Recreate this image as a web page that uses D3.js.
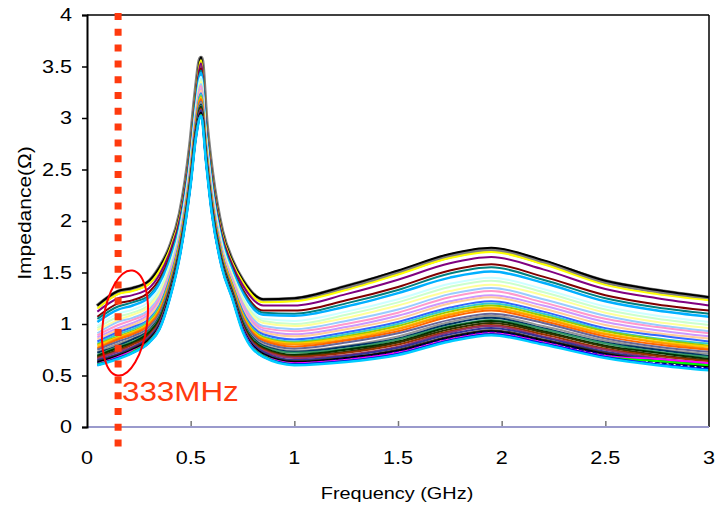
<!DOCTYPE html>
<html>
<head>
<meta charset="utf-8">
<script src="https://cdn.jsdelivr.net/npm/d3@7"></script>
<style>
  body { margin: 0; background: #fff; }
  text { font-family: Arial, "Liberation Sans", sans-serif; }
</style>
</head>
<body>
<svg id="chart" width="715" height="506"></svg>
<script>
// frequency grid (GHz) shared by every trace
const freqGHz = [0.05, 0.15, 0.22, 0.3, 0.35, 0.4, 0.45, 0.5, 0.525, 0.55, 0.575, 0.6, 0.65, 0.7, 0.75, 0.85, 1.0, 1.25, 1.5, 1.75, 1.95, 2.2, 2.5, 2.75, 3.0];

const seriesColors = ["#7f7f7f", "#000000", "#ffff00", "#800080", "#800000", "#008080", "#00b0ff",
  "#ccffff", "#ccffcc", "#ffff99", "#99ccff", "#ff99cc", "#cc99ff", "#ffcc99", "#3366ff", "#33cccc",
  "#99cc00", "#ffcc00", "#ff9900", "#ff6600", "#666699", "#969696", "#003366", "#339966", "#003300",
  "#333300", "#993300", "#993366", "#333399", "#333333", "#000000", "#000080", "#ff00ff", "#00ff00",
  "#0000ff", "#00ccff"];
const seriesWidths = [5, 2, 2, 2, 2, 2, 2.5, 2, 2, 2, 2, 2, 2, 2, 2, 2, 2, 2, 2, 2, 2, 2, 2, 2, 2,
  2, 2, 2, 2, 2, 2, 2, 2, 2, 2, 2.5];
const seriesDash = { 31: "5,2" };

// impedance (ohm), one row per trace, top trace first
const impedance = [
  [1.17,1.31,1.34,1.41,1.54,1.74,2.07,2.74,3.24,3.58,2.94,2.49,1.90,1.61,1.42,1.23,1.24,1.36,1.50,1.66,1.72,1.60,1.41,1.32,1.25],
  [1.18,1.32,1.35,1.42,1.55,1.75,2.08,2.75,3.25,3.59,2.95,2.50,1.91,1.62,1.43,1.24,1.25,1.37,1.52,1.68,1.74,1.62,1.42,1.33,1.26],
  [1.15,1.29,1.32,1.39,1.52,1.73,2.06,2.73,3.23,3.56,2.93,2.48,1.89,1.60,1.41,1.21,1.22,1.33,1.48,1.64,1.70,1.58,1.38,1.29,1.23],
  [1.12,1.25,1.28,1.35,1.48,1.70,2.04,2.71,3.20,3.53,2.91,2.46,1.87,1.58,1.38,1.18,1.18,1.29,1.43,1.59,1.65,1.53,1.34,1.25,1.18],
  [1.07,1.20,1.23,1.31,1.44,1.66,2.00,2.67,3.17,3.48,2.87,2.42,1.84,1.55,1.34,1.13,1.13,1.23,1.36,1.52,1.58,1.46,1.28,1.19,1.13],
  [1.05,1.17,1.21,1.28,1.41,1.64,1.99,2.66,3.15,3.46,2.86,2.41,1.83,1.54,1.32,1.11,1.10,1.20,1.33,1.49,1.55,1.43,1.25,1.16,1.10],
  [1.02,1.14,1.18,1.26,1.39,1.62,1.97,2.64,3.13,3.44,2.84,2.39,1.81,1.52,1.30,1.09,1.08,1.17,1.30,1.45,1.51,1.40,1.22,1.13,1.07],
  [0.98,1.10,1.14,1.22,1.35,1.58,1.94,2.61,3.10,3.40,2.81,2.36,1.79,1.49,1.27,1.05,1.03,1.12,1.24,1.39,1.45,1.34,1.17,1.08,1.02],
  [0.96,1.07,1.11,1.19,1.32,1.56,1.93,2.60,3.08,3.37,2.80,2.35,1.77,1.48,1.25,1.03,1.00,1.09,1.21,1.36,1.42,1.31,1.14,1.05,0.99],
  [0.94,1.04,1.09,1.17,1.30,1.54,1.91,2.58,3.06,3.35,2.78,2.33,1.76,1.47,1.23,1.01,0.98,1.06,1.18,1.32,1.38,1.28,1.11,1.02,0.96],
  [0.91,1.02,1.06,1.14,1.27,1.52,1.90,2.57,3.04,3.33,2.77,2.32,1.74,1.45,1.21,0.98,0.95,1.03,1.14,1.29,1.35,1.24,1.08,0.99,0.93],
  [0.89,0.99,1.04,1.12,1.25,1.50,1.88,2.55,3.03,3.31,2.75,2.30,1.73,1.44,1.19,0.96,0.93,1.00,1.11,1.26,1.32,1.21,1.05,0.97,0.91],
  [0.87,0.96,1.01,1.10,1.23,1.48,1.86,2.53,3.01,3.28,2.73,2.28,1.72,1.42,1.17,0.94,0.90,0.97,1.08,1.22,1.28,1.18,1.02,0.94,0.88],
  [0.85,0.94,0.99,1.08,1.21,1.47,1.85,2.52,2.99,3.27,2.72,2.27,1.71,1.41,1.15,0.92,0.88,0.95,1.05,1.20,1.26,1.15,0.99,0.91,0.86],
  [0.83,0.92,0.97,1.05,1.18,1.45,1.84,2.51,2.98,3.24,2.71,2.26,1.69,1.39,1.13,0.90,0.85,0.92,1.02,1.16,1.22,1.12,0.96,0.89,0.83],
  [0.81,0.90,0.95,1.04,1.17,1.43,1.82,2.49,2.96,3.23,2.69,2.24,1.68,1.38,1.11,0.88,0.83,0.90,1.00,1.14,1.20,1.10,0.94,0.86,0.81],
  [0.80,0.88,0.93,1.02,1.15,1.42,1.82,2.49,2.95,3.21,2.69,2.24,1.67,1.38,1.10,0.87,0.82,0.88,0.98,1.12,1.18,1.08,0.93,0.85,0.79],
  [0.79,0.87,0.92,1.01,1.14,1.41,1.81,2.48,2.94,3.20,2.68,2.23,1.67,1.37,1.09,0.86,0.81,0.87,0.96,1.10,1.16,1.06,0.91,0.83,0.78],
  [0.77,0.86,0.91,1.00,1.13,1.40,1.80,2.47,2.94,3.19,2.67,2.22,1.66,1.36,1.08,0.85,0.80,0.85,0.95,1.09,1.15,1.05,0.90,0.82,0.76],
  [0.76,0.85,0.90,0.99,1.12,1.39,1.79,2.46,2.93,3.18,2.66,2.21,1.65,1.35,1.07,0.84,0.78,0.84,0.93,1.07,1.13,1.03,0.88,0.80,0.75],
  [0.75,0.83,0.88,0.97,1.10,1.38,1.78,2.45,2.91,3.16,2.65,2.20,1.64,1.34,1.06,0.82,0.76,0.82,0.91,1.04,1.10,1.01,0.86,0.78,0.73],
  [0.73,0.81,0.86,0.95,1.08,1.36,1.77,2.44,2.90,3.15,2.64,2.19,1.63,1.33,1.04,0.80,0.74,0.79,0.88,1.02,1.08,0.98,0.84,0.76,0.71],
  [0.72,0.79,0.85,0.94,1.07,1.35,1.76,2.43,2.89,3.13,2.63,2.18,1.62,1.32,1.03,0.79,0.73,0.78,0.86,1.00,1.06,0.96,0.82,0.75,0.69],
  [0.70,0.78,0.83,0.93,1.06,1.34,1.75,2.42,2.88,3.12,2.62,2.17,1.62,1.32,1.02,0.78,0.72,0.76,0.85,0.98,1.04,0.95,0.81,0.73,0.68],
  [0.69,0.77,0.82,0.92,1.05,1.33,1.74,2.41,2.87,3.11,2.61,2.16,1.61,1.31,1.01,0.77,0.70,0.75,0.83,0.97,1.03,0.93,0.79,0.72,0.66],
  [0.68,0.75,0.81,0.90,1.03,1.32,1.74,2.41,2.86,3.10,2.61,2.16,1.60,1.30,1.00,0.76,0.69,0.73,0.82,0.95,1.01,0.92,0.78,0.70,0.65],
  [0.67,0.74,0.80,0.89,1.02,1.31,1.73,2.40,2.85,3.09,2.60,2.15,1.59,1.29,0.99,0.75,0.68,0.72,0.80,0.93,0.99,0.90,0.76,0.69,0.64],
  [0.66,0.73,0.78,0.88,1.01,1.30,1.72,2.39,2.85,3.08,2.59,2.14,1.59,1.29,0.98,0.74,0.67,0.70,0.78,0.92,0.98,0.88,0.75,0.67,0.62],
  [0.65,0.71,0.77,0.87,1.00,1.29,1.71,2.38,2.84,3.07,2.58,2.13,1.58,1.28,0.97,0.73,0.65,0.69,0.77,0.90,0.96,0.87,0.73,0.66,0.61],
  [0.64,0.70,0.76,0.86,0.99,1.28,1.70,2.37,2.83,3.05,2.57,2.12,1.57,1.27,0.96,0.71,0.64,0.67,0.75,0.88,0.94,0.85,0.72,0.64,0.59],
  [0.63,0.69,0.75,0.85,0.98,1.28,1.70,2.37,2.82,3.05,2.57,2.12,1.57,1.27,0.96,0.71,0.63,0.67,0.74,0.87,0.93,0.84,0.71,0.64,0.59],
  [0.62,0.68,0.74,0.84,0.97,1.27,1.69,2.36,2.82,3.04,2.56,2.11,1.56,1.26,0.95,0.70,0.62,0.66,0.73,0.86,0.92,0.83,0.70,0.63,0.57],
  [0.61,0.68,0.74,0.83,0.97,1.26,1.69,2.36,2.81,3.03,2.56,2.11,1.56,1.26,0.95,0.69,0.62,0.65,0.72,0.85,0.91,0.82,0.69,0.66,0.62],
  [0.61,0.67,0.73,0.83,0.96,1.26,1.69,2.36,2.81,3.03,2.56,2.11,1.56,1.26,0.94,0.69,0.61,0.64,0.71,0.84,0.90,0.81,0.68,0.64,0.60],
  [0.60,0.67,0.72,0.82,0.95,1.25,1.68,2.35,2.80,3.02,2.55,2.10,1.55,1.25,0.94,0.68,0.61,0.64,0.71,0.84,0.90,0.81,0.68,0.61,0.56],
  [0.60,0.66,0.72,0.82,0.95,1.25,1.68,2.35,2.80,3.02,2.55,2.10,1.55,1.25,0.93,0.68,0.60,0.63,0.70,0.83,0.89,0.80,0.67,0.60,0.55]
];

const xTicks = [0, 0.5, 1, 1.5, 2, 2.5, 3];
const yTicks = [0, 0.5, 1, 1.5, 2, 2.5, 3, 3.5, 4];
const markerGHz = 0.15;
const markerLabel = "333MHz";

const svg = d3.select("#chart");
const x = d3.scaleLinear().domain([0, 3]).range([87, 709]);
const y = d3.scaleLinear().domain([0, 4]).range([427, 15]);
const red = "#ff3a0e";

svg.append("rect").attr("width", 715).attr("height", 506).attr("fill", "#fff");

// traces
const line = d3.line()
    .x((d, i) => x(freqGHz[i]))
    .y(d => y(d))
    .curve(d3.curveMonotoneX);

svg.append("g").attr("class", "traces")
    .selectAll("path")
    .data(impedance)
    .enter()
    .append("path")
    .attr("d", line)
    .attr("fill", "none")
    .attr("stroke", (d, i) => seriesColors[i])
    .attr("stroke-width", (d, i) => seriesWidths[i])
    .attr("stroke-dasharray", (d, i) => seriesDash[i] || null)
    .attr("stroke-linejoin", "round");

// frame
svg.append("line").attr("x1", 87).attr("x2", 709).attr("y1", 15).attr("y2", 15)
    .attr("stroke", "#000").attr("stroke-width", 1.5);
svg.append("line").attr("x1", 709).attr("x2", 709).attr("y1", 15).attr("y2", 427)
    .attr("stroke", "#000").attr("stroke-width", 1.5);

// x axis (light lavender line, ticks pointing up)
const xAxis = svg.append("g").attr("transform", `translate(0,${y(0)})`)
    .call(d3.axisTop(x).tickValues(xTicks.slice(1, -1)).tickSize(6).tickFormat(""));
xAxis.select(".domain").remove();
xAxis.selectAll(".tick line").attr("stroke", "#777").attr("stroke-width", 1.5);
svg.append("line").attr("x1", 87).attr("x2", 709).attr("y1", y(0)).attr("y2", y(0))
    .attr("stroke", "#9a9acc").attr("stroke-width", 2);

// y axis
const yAxis = svg.append("g").attr("transform", `translate(${x(0)},0)`)
    .call(d3.axisLeft(y).tickValues(yTicks).tickSize(5).tickFormat(""));
yAxis.select(".domain").attr("stroke", "#000").attr("stroke-width", 2);
yAxis.selectAll(".tick line").attr("stroke", "#000").attr("stroke-width", 1.5);

// tick labels (slightly wide face, as in the source)
svg.append("g").selectAll("text").data(yTicks).enter().append("text")
    .attr("transform", d => `translate(72,${y(d)}) scale(1.2,1)`)
    .attr("text-anchor", "end").attr("dy", "0.36em")
    .attr("font-size", 18).attr("fill", "#000")
    .text(d => d3.format("")(d));
svg.append("g").selectAll("text").data(xTicks).enter().append("text")
    .attr("transform", d => `translate(${x(d)},458) scale(1.2,1)`)
    .attr("text-anchor", "middle").attr("dy", "0.36em")
    .attr("font-size", 18).attr("fill", "#000")
    .text(d => d3.format("")(d));

// axis titles
svg.append("text").attr("transform", "translate(397,499) scale(1.17,1)")
    .attr("text-anchor", "middle").attr("font-size", 17).text("Frequency (GHz)");
svg.append("text").attr("transform", "translate(31,213) rotate(-90) scale(1.2,1)")
    .attr("text-anchor", "middle").attr("font-size", 17.5).text("Impedance(Ω)");

// 333 MHz marker
svg.append("line").attr("x1", x(markerGHz)).attr("x2", x(markerGHz))
    .attr("y1", 13).attr("y2", 452)
    .attr("stroke", red).attr("stroke-width", 7).attr("stroke-dasharray", "7,8.8");
svg.append("ellipse").attr("cx", 125).attr("cy", 323).attr("rx", 22).attr("ry", 53)
    .attr("fill", "none").attr("stroke", "#f00").attr("stroke-width", 2)
    .attr("transform", "rotate(8,125,323)");
svg.append("text").attr("transform", "translate(122,401) scale(1.12,1)")
    .attr("font-size", 28).attr("fill", red).text(markerLabel);
</script>
</body>
</html>
